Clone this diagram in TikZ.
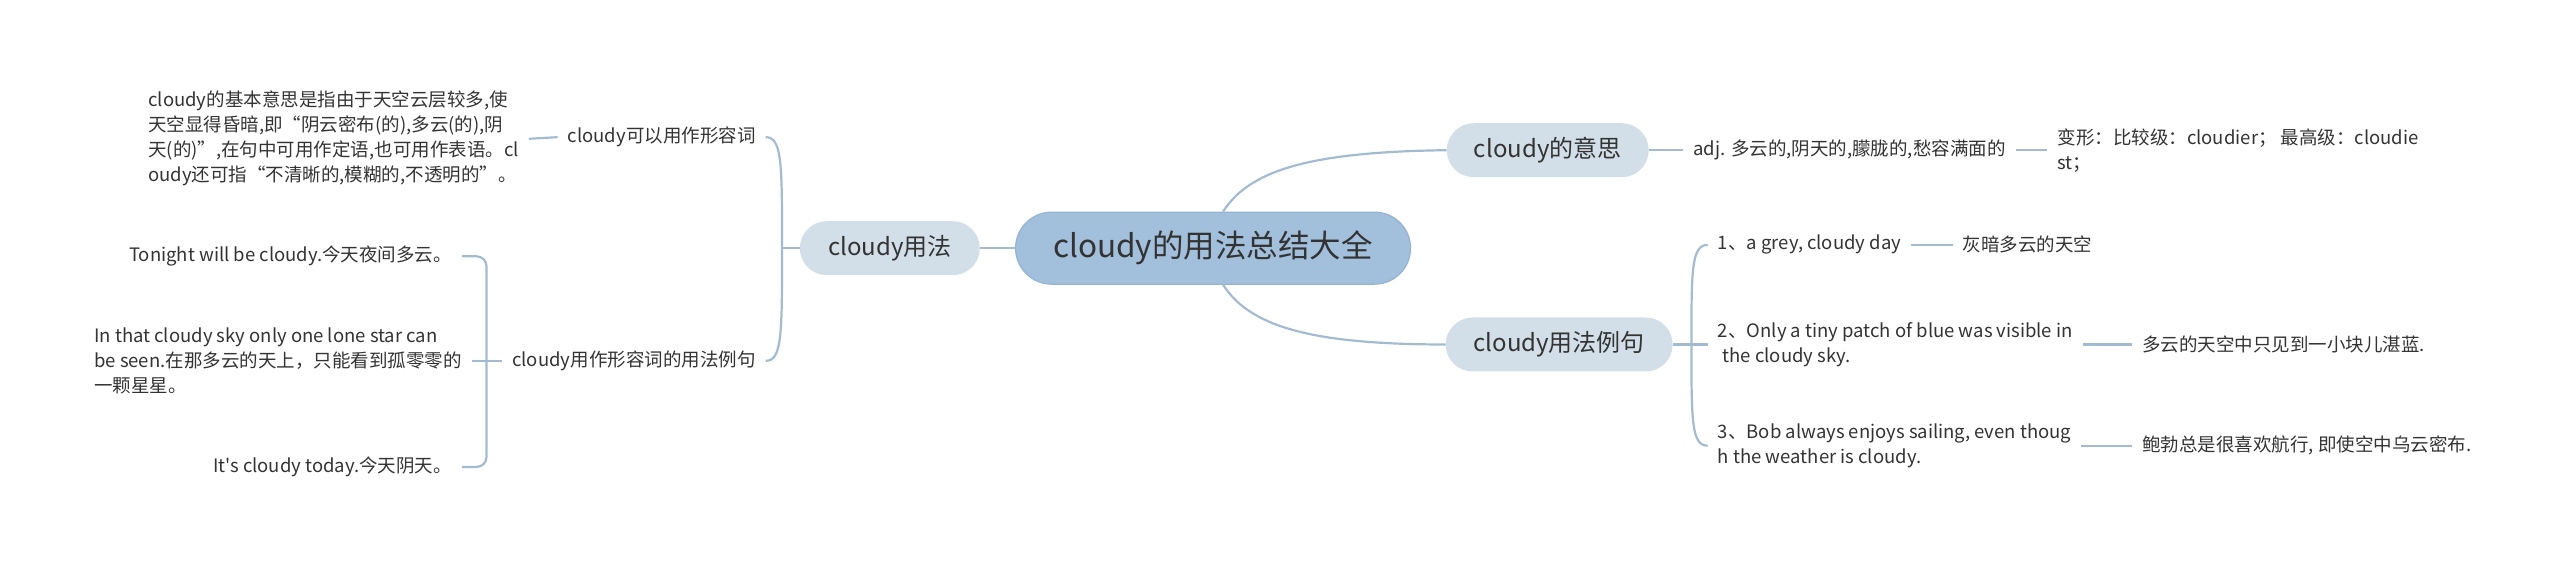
\documentclass[tikz,border=0pt]{standalone}
\usepackage{fontspec}
\setmainfont{Noto Sans CJK SC}[Ligatures=TeXOff]
\definecolor{lc}{HTML}{A3BBD1}
\definecolor{rootc}{HTML}{A2BFDC}
\definecolor{rootb}{HTML}{95B4D3}
\definecolor{subc}{HTML}{D3DFE8}
\definecolor{tc}{HTML}{333333}
\tikzset{
  conn/.style={draw=lc, line width=2.2pt},
  rootbox/.style={fill=rootc, draw=rootb, line width=1.2pt, rounded corners=36pt, minimum width=395pt, minimum height=72pt, font=\fontsize{31.5}{36}\selectfont, text=tc},
  subbox/.style={fill=subc, draw=none, rounded corners=27pt, minimum height=54pt, font=\fontsize{24}{28}\selectfont, text=tc},
  leaf/.style={font=\fontsize{18.5}{25}\selectfont, text=tc, inner xsep=10pt, inner ysep=2pt, align=left},
}
\begin{document}
\begin{tikzpicture}[x=1.6327pt,y=-1.6327pt]
\useasboundingbox (0,0) rectangle (1568,347);
% main nodes
\node[rootbox] (root) at (743,152) {cloudy的用法总结大全};
\node[subbox, minimum width=180pt] (yf) at (545,152) {cloudy用法};
\node[subbox, minimum width=202pt] (ys) at (948,92) {cloudy的意思};
\node[subbox, minimum width=227pt] (lj) at (955,211) {cloudy用法例句};
% left leaves
\node[leaf, anchor=east] (L1) at (469,84) {cloudy可以用作形容词};
\node[leaf, anchor=east] (L1a) at (324,85) {cloudy的基本意思是指由于天空云层较多,使\\天空显得昏暗,即“阴云密布(的),多云(的),阴\\天(的)”,在句中可用作定语,也可用作表语。cl\\oudy还可指“不清晰的,模糊的,不透明的”。};
\node[leaf, anchor=east] (L2) at (469,221) {cloudy用作形容词的用法例句};
\node[leaf, anchor=east] (L2a) at (283,157) {Tonight will be cloudy.今天夜间多云。};
\node[leaf, anchor=east] (L2b) at (289,221) {In that cloudy sky only one lone star can\\be seen.在那多云的天上，只能看到孤零零的\\一颗星星。};
\node[leaf, anchor=east] (L2c) at (283,286) {It's cloudy today.今天阴天。};
% right leaves
\node[leaf, anchor=west] (R1) at (1031,92) {adj. 多云的,阴天的,朦胧的,愁容满面的};
\node[leaf, anchor=west] (R1a) at (1254,92) {变形：比较级：cloudier； 最高级：cloudie\\st；};
\node[leaf, anchor=west] (R2) at (1046,150) {1、a grey, cloudy day};
\node[leaf, anchor=west] (R2a) at (1196,150) {灰暗多云的天空};
\node[leaf, anchor=west] (R3) at (1046,211) {2、Only a tiny patch of blue was visible in\\\hspace*{0.25em}the cloudy sky.};
\node[leaf, anchor=west] (R3a) at (1306,211) {多云的天空中只见到一小块儿湛蓝.};
\node[leaf, anchor=west] (R4) at (1046,273) {3、Bob always enjoys sailing, even thoug\\h the weather is cloudy.};
\node[leaf, anchor=west] (R4a) at (1306,273) {鲍勃总是很喜欢航行, 即使空中乌云密布.};
% connectors
\coordinate (jl) at (479,152);
\coordinate (jf) at (298,221);
\coordinate (jr) at (1036,211);
\draw[conn] (root.west) -- (yf.east);
\draw[conn] ([xshift=10pt]root.north) .. controls (765,105) and (800,93) .. (ys.west);
\draw[conn] ([xshift=10pt]root.south) .. controls (765,199) and (800,211) .. (lj.west);
\draw[conn] (yf.west) -- (jl);
\draw[conn] (jl) .. controls (479,100) and (479,84) .. (L1.east);
\draw[conn] (jl) .. controls (479,205) and (479,221) .. (L2.east);
\draw[conn] (L1.west) -- (L1a.east);
\draw[conn] (L2.west) -- (L2b.east);
\draw[conn, rounded corners=10pt] (L2a.east) -| (jf) |- (L2c.east);
\draw[conn] (ys.east) -- (R1.west);
\draw[conn] (R1.east) -- (R1a.west);
\draw[conn] (lj.east) -- (R3.west);
\draw[conn] (jr) .. controls (1036,165) and (1036,150) .. (R2.west);
\draw[conn] (jr) .. controls (1036,258) and (1036,273) .. (R4.west);
\draw[conn] (R2.east) -- (R2a.west);
\draw[conn] (R3.east) -- (R3a.west);
\draw[conn] (R4.east) -- (R4a.west);
\end{tikzpicture}
\end{document}
